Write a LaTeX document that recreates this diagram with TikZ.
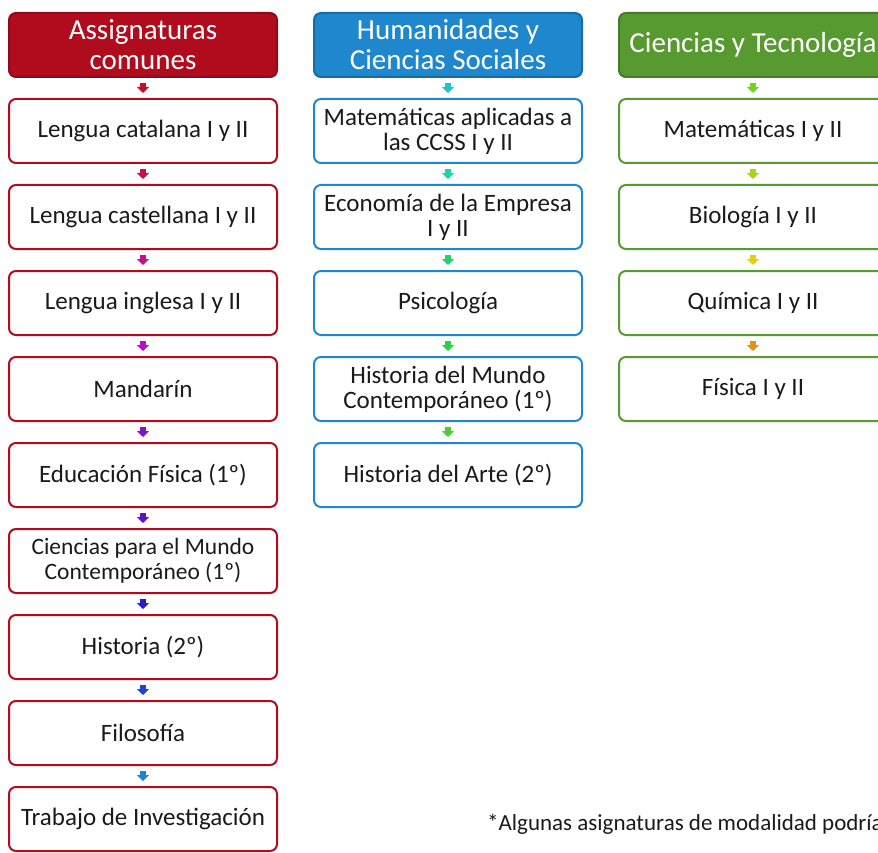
\documentclass[tikz,border=0pt]{standalone}
\usepackage{fontspec}
\setmainfont{Carlito}
\usetikzlibrary{arrows.meta}
\definecolor{rojo}{HTML}{B10C1E}
\definecolor{azul}{HTML}{1E87CE}
\definecolor{verde}{HTML}{579A30}
\definecolor{texto}{HTML}{1A1A1A}
% colores de las flechas
\definecolor{fr1}{HTML}{C2112B}
\definecolor{fr2}{HTML}{C21152}
\definecolor{fr3}{HTML}{C2118A}
\definecolor{fr4}{HTML}{B511C8}
\definecolor{fr5}{HTML}{8512C8}
\definecolor{fr6}{HTML}{5A14C8}
\definecolor{fr7}{HTML}{2A1CCB}
\definecolor{fr8}{HTML}{1F44D0}
\definecolor{fr9}{HTML}{1C84D2}
\definecolor{fb1}{HTML}{1FC3D0}
\definecolor{fb2}{HTML}{1FD3A4}
\definecolor{fb3}{HTML}{22D36E}
\definecolor{fb4}{HTML}{2CD243}
\definecolor{fb5}{HTML}{45D22C}
\definecolor{fg1}{HTML}{72D41E}
\definecolor{fg2}{HTML}{A6D41E}
\definecolor{fg3}{HTML}{E0D10F}
\definecolor{fg4}{HTML}{E4910F}
\begin{document}
\begin{tikzpicture}[x=1pt, y=-1pt, line join=round,
  caja/.style={draw=#1, line width=2pt, rounded corners=7pt, fill=white, text=texto,
    minimum width=268pt, minimum height=64pt, align=center, inner sep=0pt,
    font=\fontsize{25}{25}\selectfont},
  cabecera/.style={draw=#1!80!black, fill=#1, line width=2pt, rounded corners=7pt, text=white,
    minimum width=268pt, minimum height=64pt, align=center, inner sep=0pt,
    font=\fontsize{29}{30}\selectfont},
  flecha/.style={draw=#1, line width=6pt, -{Triangle[width=12pt,length=6pt]},
    shorten <=5pt, shorten >=5pt}]
\useasboundingbox (0,0) rectangle (878,853);
\clip (0,0) rectangle (878,853);
\def\xr{143} \def\xb{448} \def\xg{753}
% cabeceras
\node[cabecera=rojo] (r0) at (\xr,45) {Assignaturas\\comunes};
\node[cabecera=azul] (b0) at (\xb,45) {Humanidades y\\Ciencias Sociales};
\node[cabecera=verde] (g0) at (\xg,45) {Ciencias y Tecnología};
% asignaturas comunes
\node[caja=rojo] (r1) at (\xr,131) {Lengua catalana I y II};
\node[caja=rojo] (r2) at (\xr,217) {Lengua castellana I y II};
\node[caja=rojo] (r3) at (\xr,303) {Lengua inglesa I y II};
\node[caja=rojo] (r4) at (\xr,389) {Mandarín};
\node[caja=rojo] (r5) at (\xr,475) {Educación Física (1º)};
\node[caja=rojo, font=\fontsize{23.5}{25}\selectfont] (r6) at (\xr,561) {Ciencias para el Mundo\\Contemporáneo (1º)};
\node[caja=rojo] (r7) at (\xr,647) {Historia (2º)};
\node[caja=rojo] (r8) at (\xr,733) {Filosofía};
\node[caja=rojo] (r9) at (\xr,819) {Trabajo de Investigación};
% humanidades
\node[caja=azul] (b1) at (\xb,131) {Matemáticas aplicadas a\\las CCSS I y II};
\node[caja=azul] (b2) at (\xb,217) {Economía de la Empresa\\I y II};
\node[caja=azul] (b3) at (\xb,303) {Psicología};
\node[caja=azul] (b4) at (\xb,389) {Historia del Mundo\\Contemporáneo (1º)};
\node[caja=azul] (b5) at (\xb,475) {Historia del Arte (2º)};
% ciencias
\node[caja=verde] (g1) at (\xg,131) {Matemáticas I y II};
\node[caja=verde] (g2) at (\xg,217) {Biología I y II};
\node[caja=verde] (g3) at (\xg,303) {Química I y II};
\node[caja=verde] (g4) at (\xg,389) {Física I y II};
% flechas
\foreach \c in {r,b,g}{
  \foreach \i [evaluate=\i as \j using int(\i-1)] in {1,...,9}{
    \ifcsname pgf@sh@ns@\c\i\endcsname
      \draw[flecha=f\c\i] (\c\j.south) -- (\c\i.north);
    \fi
  }
}
\node[anchor=base west, inner sep=0pt, text=texto, font=\fontsize{23}{24}\selectfont] (nota) at (487,830) {*Algunas asignaturas de modalidad podría};
\end{tikzpicture}
\end{document}
